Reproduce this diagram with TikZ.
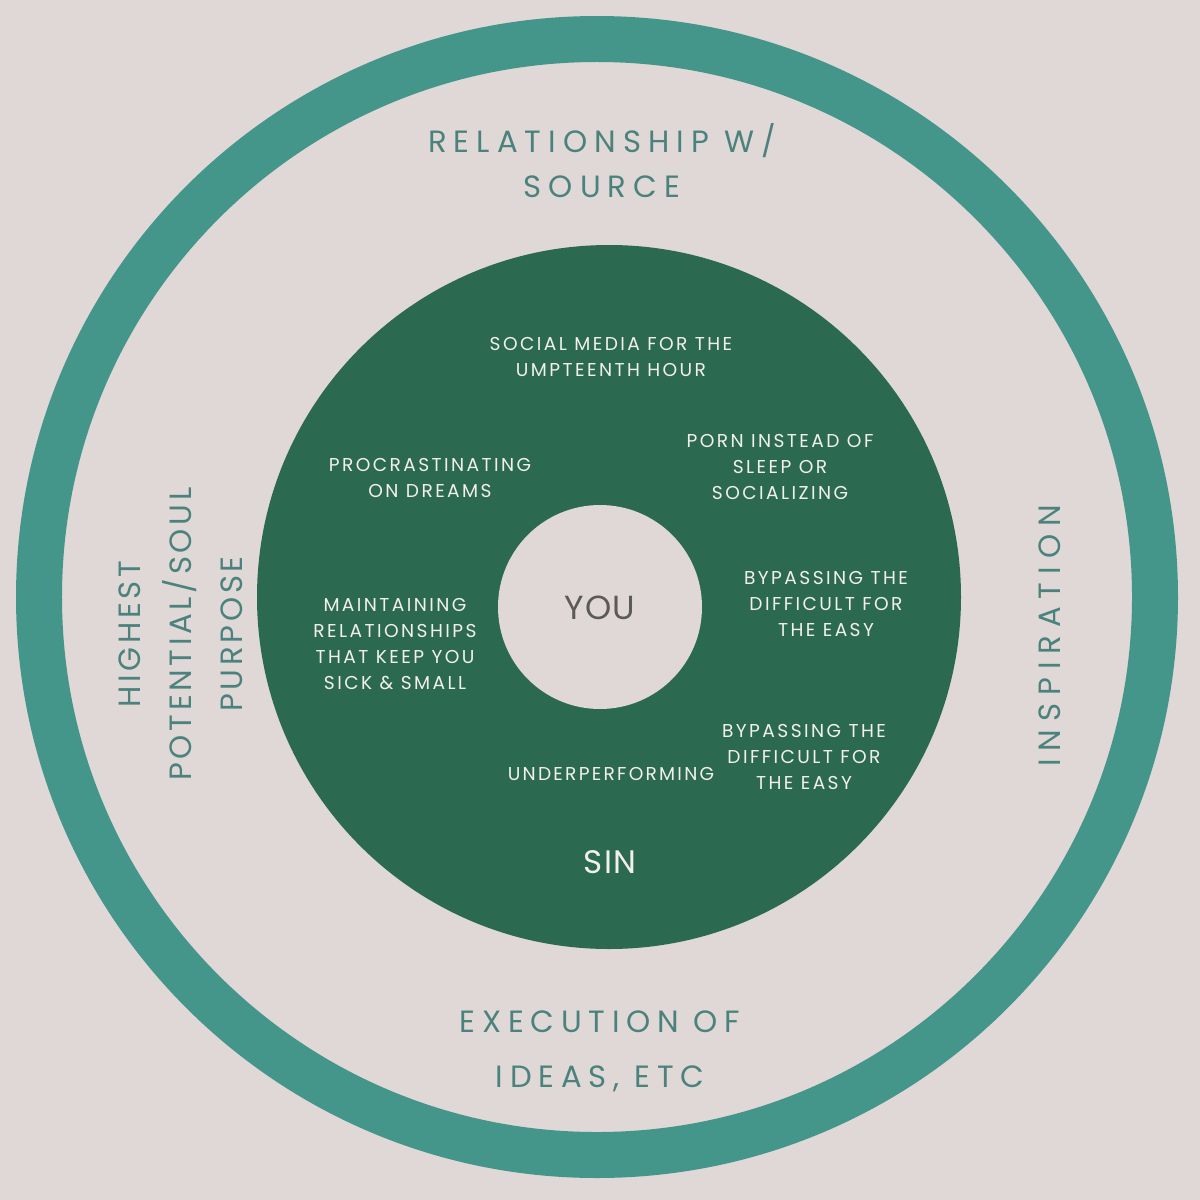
\documentclass[tikz,border=0pt]{standalone}
\usepackage{fontspec}
\setmainfont{Poppins}
\usepackage{xcolor}
\usetikzlibrary{positioning}
\definecolor{c_bg}{HTML}{DFD8D6}
\definecolor{c_ring}{HTML}{44968A}
\definecolor{c_sin}{HTML}{2B6A50}
\definecolor{c_outtext}{HTML}{4C827D}
\definecolor{c_intext}{HTML}{F2EFEC}
\definecolor{c_you}{HTML}{5A5A5A}
\tikzset{outer-label/.style={align=center, inner sep=0pt, text=c_outtext, font=\fontsize{17.5}{25.6}\selectfont\addfontfeatures{LetterSpace=23}},
inner-label/.style={align=center, inner sep=0pt, text=c_intext, font=\fontsize{10.6}{14.8}\selectfont\addfontfeatures{LetterSpace=13}}}

\begin{document}
\begin{tikzpicture}[x=0.02cm, y=-0.02cm]
\useasboundingbox (0,0) rectangle (1200,1200);
\fill [c_bg] (0,0) rectangle (1200,1200);
% rings
\draw [c_ring, line width=0.92cm] (597,597) circle (558);
\fill [c_sin] (609,597) circle (352);
\fill [c_bg] (600,607) circle (102);
% outer labels
\node (source) [outer-label] at (602,161) {RELATIONSHIP W/\\SOURCE};
\node (purpose) [outer-label, rotate=90, font=\fontsize{17.5}{29}\selectfont\addfontfeatures{LetterSpace=12}] at (181,634) {HIGHEST\\POTENTIAL/SOUL\\PURPOSE};
\node (inspiration) [outer-label, rotate=90, font=\fontsize{17.5}{25.6}\selectfont\addfontfeatures{LetterSpace=26}] at (1050,636) {INSPIRATION};
\node (execution) [outer-label, font=\fontsize{17.5}{31.3}\selectfont\addfontfeatures{LetterSpace=22}] at (600,1051) {EXECUTION OF\\IDEAS, ETC};
% inner labels
\node (you) [align=center, inner sep=0pt, text=c_you, font=\fontsize{19}{22}\selectfont\addfontfeatures{LetterSpace=4}] at (600,608) {YOU};
\node (social) [inner-label] at (611,357) {SOCIAL MEDIA FOR THE\\UMPTEENTH HOUR};
\node (procrast) [inner-label] at (430,478) {PROCRASTINATING\\ON DREAMS};
\node (porn) [inner-label] at (780,467) {PORN INSTEAD OF\\SLEEP OR\\SOCIALIZING};
\node (maintain) [inner-label] at (395,644) {MAINTAINING\\RELATIONSHIPS\\THAT KEEP YOU\\SICK \& SMALL};
\node (bypass1) [inner-label] at (826,604) {BYPASSING THE\\DIFFICULT FOR\\THE EASY};
\node (bypass2) [inner-label] at (804,757) {BYPASSING THE\\DIFFICULT FOR\\THE EASY};
\node (under) [inner-label, font=\fontsize{10.6}{14.8}\selectfont\addfontfeatures{LetterSpace=12}] at (611,774) {UNDERPERFORMING};
\node (sin) [inner-label, font=\fontsize{18.5}{22}\selectfont\addfontfeatures{LetterSpace=4}] at (610,862) {SIN};
\end{tikzpicture}
\end{document}
